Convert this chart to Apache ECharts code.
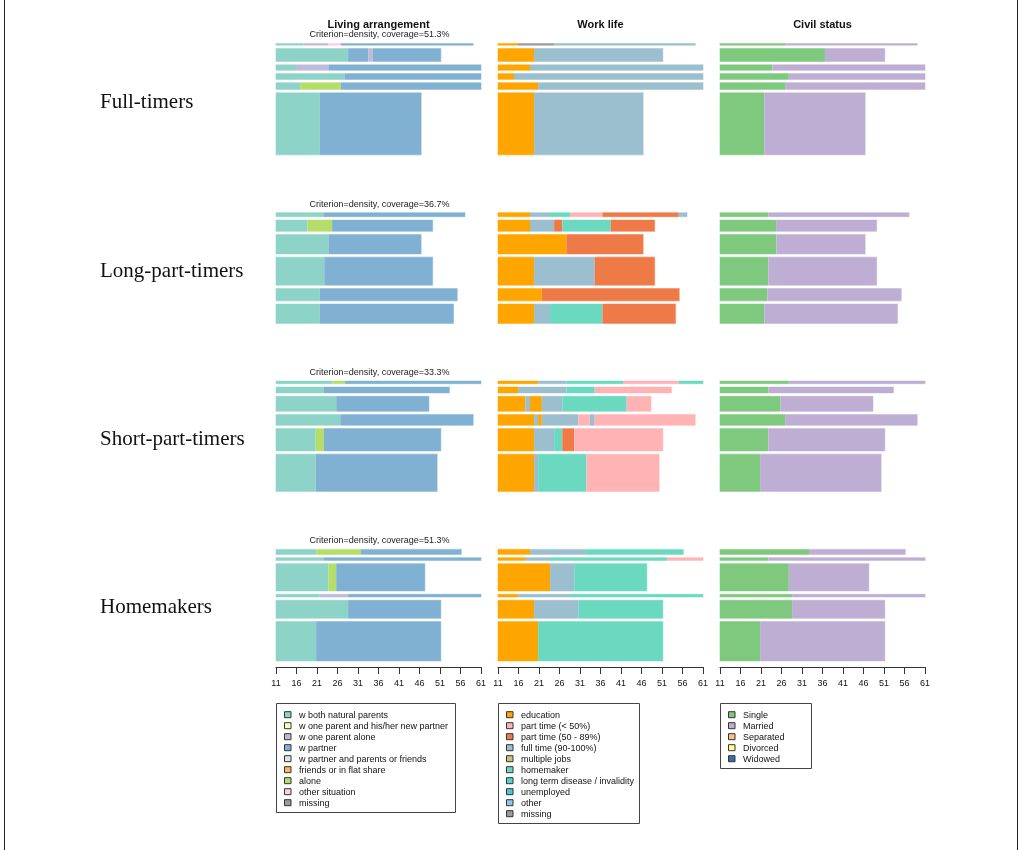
<!DOCTYPE html>
<html>
<head>
<meta charset="utf-8">
<script src="https://cdn.jsdelivr.net/npm/echarts@6/dist/echarts.min.js"></script>
<style>
  html, body { margin: 0; padding: 0; background: #ffffff; }
  #chart { width: 1022px; height: 850px; }
</style>
</head>
<body>
<div id="chart"></div>
<script>
// ---- labels ----
const domains = ['Living arrangement', 'Work life', 'Civil status'];
const groups = ['Full-timers', 'Long-part-timers', 'Short-part-timers', 'Homemakers'];
const coverage = ['51.3%', '36.7%', '33.3%', '51.3%'];
const ageTicks = [11, 16, 21, 26, 31, 36, 41, 46, 51, 56, 61];

// ---- state alphabets ----
const livingStates = ['w both natural parents', 'w one parent and his/her new partner', 'w one parent alone',
  'w partner', 'w partner and parents or friends', 'friends or in flat share', 'alone', 'other situation', 'missing'];
const livingColors = ['#8DD3C7', '#FFFFB3', '#BEBADA', '#80B1D3', '#E2E2E2', '#FDB462', '#B3DE69', '#FCCDE5', '#9A9A9A'];

const workStates = ['education', 'part time (< 50%)', 'part time (50 - 89%)', 'full time (90-100%)', 'multiple jobs',
  'homemaker', 'long term disease / invalidity', 'unemployed', 'other', 'missing'];
const workColors = ['#FFA500', '#FFB3B5', '#EE7B47', '#9BBFCE', '#CBC27C', '#6AD9C0', '#56D2C9', '#50C4DC', '#8CC8EE', '#9A9A9A'];

const civilStates = ['Single', 'Married', 'Separated', 'Divorced', 'Widowed'];
const civilColors = ['#7FC97F', '#BEAED4', '#FDC086', '#FFFF99', '#386CB0'];

// ---- bar heights of the representative sequences (share of sequences represented) ----
const fullWeights = [1.7, 13, 5.5, 5.8, 6.8, 62];
const longWeights = [4, 11.3, 19.3, 28, 12.3, 19.3];
const shortWeights = [2.7, 6, 15, 10.7, 22.3, 37.3];
const homeWeights = [5, 2.7, 27.3, 2.7, 18, 39.3];

// ---- sequences: spells as [state, age at which the spell ends], all starting at age 11 ----
const fullLiving = [
  [[0, 17.7], [2, 23.8], [7, 26.8], [3, 59.1]],
  [[0, 28.6], [3, 33.5], [2, 34.6], [3, 51.2]],
  [[0, 15.9], [2, 23.8], [3, 61]],
  [[0, 27.8], [3, 61]],
  [[0, 16.9], [6, 26.8], [3, 61]],
  [[0, 21.7], [3, 46.4]]
];
const fullWork = [
  [[0, 15.9], [9, 24.7], [3, 59.1]],
  [[0, 19.8], [3, 51.2]],
  [[0, 18.8], [3, 61]],
  [[0, 14.9], [3, 61]],
  [[0, 20.8], [3, 61]],
  [[0, 19.8], [3, 46.4]]
];
const fullCivil = [
  [[0, 26.9], [1, 59.1]],
  [[0, 36.6], [1, 51.2]],
  [[0, 23.8], [1, 61]],
  [[0, 27.8], [1, 61]],
  [[0, 26.9], [1, 61]],
  [[0, 21.8], [1, 46.4]]
];

const longLiving = [
  [[0, 22.7], [3, 57.1]],
  [[0, 18.7], [6, 24.7], [3, 49.2]],
  [[0, 23.8], [3, 46.4]],
  [[0, 22.8], [3, 49.2]],
  [[0, 21.7], [3, 55.2]],
  [[0, 21.7], [3, 54.3]]
];
const longWork = [
  [[0, 18.8], [3, 23.7], [5, 28.6], [1, 36.5], [2, 55.1], [3, 57.1]],
  [[0, 18.8], [3, 24.7], [2, 26.7], [5, 38.5], [2, 49.2]],
  [[0, 27.7], [2, 46.4]],
  [[0, 19.8], [3, 34.6], [2, 49.2]],
  [[0, 21.7], [2, 55.2]],
  [[0, 19.8], [3, 23.7], [5, 36.5], [2, 54.3]]
];
const longCivil = [
  [[0, 22.8], [1, 57.1]],
  [[0, 24.7], [1, 49.2]],
  [[0, 24.8], [1, 46.4]],
  [[0, 22.8], [1, 49.2]],
  [[0, 22.6], [1, 55.2]],
  [[0, 21.8], [1, 54.3]]
];

const shortLiving = [
  [[0, 24.7], [6, 27.8], [3, 61]],
  [[0, 22.7], [3, 53.3]],
  [[0, 25.7], [3, 48.3]],
  [[0, 26.7], [3, 59.1]],
  [[0, 20.7], [6, 22.7], [3, 51.2]],
  [[0, 20.7], [3, 50.3]]
];
const shortWork = [
  [[0, 20.8], [3, 27.7], [5, 41.5], [1, 55.1], [5, 61]],
  [[0, 15.9], [3, 27.7], [5, 34.6], [1, 53.3]],
  [[0, 17.7], [3, 18.8], [0, 21.7], [3, 26.7], [5, 42.4], [1, 48.3]],
  [[0, 19.8], [3, 20.8], [0, 21.7], [3, 30.6], [1, 33.4], [3, 34.6], [1, 59.1]],
  [[0, 19.8], [3, 24.7], [5, 26.7], [2, 29.6], [1, 51.2]],
  [[0, 19.8], [3, 20.8], [5, 32.6], [1, 50.3]]
];
const shortCivil = [
  [[0, 27.8], [1, 61]],
  [[0, 22.8], [1, 53.3]],
  [[0, 25.8], [1, 48.3]],
  [[0, 26.9], [1, 59.1]],
  [[0, 22.8], [1, 51.2]],
  [[0, 20.8], [1, 50.3]]
];

const homeLiving = [
  [[0, 20.8], [6, 31.7], [3, 56.2]],
  [[0, 22.7], [3, 61]],
  [[0, 23.8], [6, 25.7], [3, 47.3]],
  [[0, 21.7], [2, 28.6], [3, 61]],
  [[0, 28.6], [3, 51.2]],
  [[0, 20.8], [3, 51.2]]
];
const homeWork = [
  [[0, 18.8], [3, 32.5], [5, 56.2]],
  [[0, 17.8], [3, 23.7], [5, 52.2], [1, 61]],
  [[0, 23.7], [3, 29.6], [5, 47.3]],
  [[0, 15.9], [3, 28.6], [5, 61]],
  [[0, 19.8], [3, 30.6], [5, 51.2]],
  [[0, 20.8], [5, 51.2]]
];
const homeCivil = [
  [[0, 32.7], [1, 56.2]],
  [[0, 22.8], [1, 61]],
  [[0, 27.8], [1, 47.3]],
  [[0, 28.6], [1, 61]],
  [[0, 28.6], [1, 51.2]],
  [[0, 20.8], [1, 51.2]]
];

// ---- layout ----
const SANS = '"Liberation Sans", Arial, Helvetica, sans-serif';
const SERIF = '"Liberation Serif", "Times New Roman", serif';
const colLeft = [276, 498, 720];
const colWidth = 205;
const rowTop = [43.5, 212.7, 381, 549.4];
const panelHeight = 112;
const GAP = 3.3;

const panels = [
  [fullLiving, fullWork, fullCivil],
  [longLiving, longWork, longCivil],
  [shortLiving, shortWork, shortCivil],
  [homeLiving, homeWork, homeCivil]
];
const weightsByGroup = [fullWeights, longWeights, shortWeights, homeWeights];
const palettes = [livingColors, workColors, civilColors];
const stateLists = [livingStates, workStates, civilStates];

function mixWhite(hex, t) {
  const n = parseInt(hex.slice(1), 16);
  const r = (n >> 16) & 255, g = (n >> 8) & 255, b = n & 255;
  const m = v => Math.round(v + (255 - v) * t);
  return 'rgb(' + m(r) + ',' + m(g) + ',' + m(b) + ')';
}

// one row per spell: [start, end, yTop, yBottom, state, firstSpell, lastSpell]
function spellRows(seqs, weights) {
  const rows = [];
  let y = 0;
  seqs.forEach((seq, i) => {
    const h = weights[i];
    let start = ageTicks[0];
    seq.forEach(([state, end], j) => {
      rows.push([start, end, y, y + h, state, j === 0 ? 1 : 0, j === seq.length - 1 ? 1 : 0]);
      start = end;
    });
    y += h + GAP;
  });
  return rows;
}

function makeRender(colors) {
  return function (params, api) {
    const a = api.coord([api.value(0), api.value(2)]);
    const b = api.coord([api.value(1), api.value(3)]);
    const c = colors[api.value(4)];
    const padL = api.value(5) ? 0.6 : 0;
    const padR = api.value(6) ? 0.6 : 0;
    return {
      type: 'group',
      children: [
        { type: 'rect', shape: { x: a[0] - padL, y: a[1] - 0.6, width: b[0] - a[0] + padL + padR, height: b[1] - a[1] + 1.2 },
          style: { fill: mixWhite(c, 0.55) } },
        { type: 'rect', shape: { x: a[0], y: a[1], width: b[0] - a[0], height: b[1] - a[1] },
          style: { fill: c } }
      ]
    };
  };
}

const grid = [], xAxis = [], yAxis = [], series = [];
groups.forEach((g, gi) => {
  domains.forEach((d, di) => {
    const idx = grid.length;
    const bottomRow = gi === groups.length - 1;
    grid.push({ left: colLeft[di], top: rowTop[gi], width: colWidth, height: panelHeight });
    xAxis.push({
      gridIndex: idx, type: 'value', position: 'bottom',
      min: ageTicks[0], max: ageTicks[ageTicks.length - 1], interval: ageTicks[1] - ageTicks[0],
      show: bottomRow, offset: 5.6,
      splitLine: { show: false },
      axisLine: { show: true, onZero: false, lineStyle: { color: '#333', width: 1 } },
      axisTick: { show: true, length: 7, lineStyle: { color: '#333', width: 1 } },
      axisLabel: { show: true, margin: 12, fontSize: 9, color: '#111', fontFamily: SANS, showMinLabel: true, showMaxLabel: true }
    });
    yAxis.push({ gridIndex: idx, type: 'value', min: 0, max: panelHeight, inverse: true, show: false });
    series.push({
      type: 'custom',
      name: g + ' / ' + d,
      xAxisIndex: idx, yAxisIndex: idx,
      renderItem: makeRender(palettes[di]),
      encode: { x: [0, 1], y: [2, 3] },
      data: spellRows(panels[gi][di], weightsByGroup[gi]),
      silent: true
    });
  });
});

// ---- texts: column titles, criterion lines, group names ----
const graphics = [];
domains.forEach((d, di) => {
  graphics.push({ type: 'text', x: colLeft[di] + colWidth / 2, y: 25,
    style: { text: d, font: 'bold 11px ' + SANS, fill: '#111', align: 'center', verticalAlign: 'middle' } });
});
groups.forEach((g, gi) => {
  graphics.push({ type: 'text', x: colLeft[0] + colWidth / 2 + 1, y: rowTop[gi] - 8.5,
    style: { text: 'Criterion=density, coverage=' + coverage[gi], font: '9px ' + SANS, fill: '#222', align: 'center', verticalAlign: 'middle' } });
  graphics.push({ type: 'text', x: 100, y: rowTop[gi] + 58.5,
    style: { text: g, font: '21px ' + SERIF, fill: '#111', align: 'left', verticalAlign: 'middle' } });
});

// ---- legends ----
const legendBoxes = [
  { x: 276, w: 179 },
  { x: 498, w: 141 },
  { x: 720, w: 91 }
];
stateLists.forEach((states, di) => {
  const box = legendBoxes[di];
  const top = 703.5;
  const h = states.length * 11 + 10;
  graphics.push({ type: 'rect', shape: { x: box.x + 0.5, y: top, width: box.w, height: h },
    style: { fill: 'none', stroke: '#444', lineWidth: 1 } });
  states.forEach((s, i) => {
    const cy = top + 11.2 + i * 11;
    graphics.push({ type: 'rect', shape: { x: box.x + 8.5, y: cy - 3, width: 6.5, height: 6 },
      style: { fill: palettes[di][i], stroke: '#333', lineWidth: 1 } });
    graphics.push({ type: 'text', x: box.x + 23, y: cy + 0.5,
      style: { text: s, font: '9px ' + SANS, fill: '#111', align: 'left', verticalAlign: 'middle' } });
  });
});

// outer frame sides
graphics.push({ type: 'line', shape: { x1: 4.5, y1: 0, x2: 4.5, y2: 850 }, style: { stroke: '#222', lineWidth: 1 } });
graphics.push({ type: 'line', shape: { x1: 1017.5, y1: 0, x2: 1017.5, y2: 850 }, style: { stroke: '#222', lineWidth: 1 } });

const chart = echarts.init(document.getElementById('chart'), null, { renderer: 'canvas' });
chart.setOption({
  animation: false,
  backgroundColor: '#ffffff',
  grid, xAxis, yAxis, series,
  graphic: graphics
});
</script>
</body>
</html>
